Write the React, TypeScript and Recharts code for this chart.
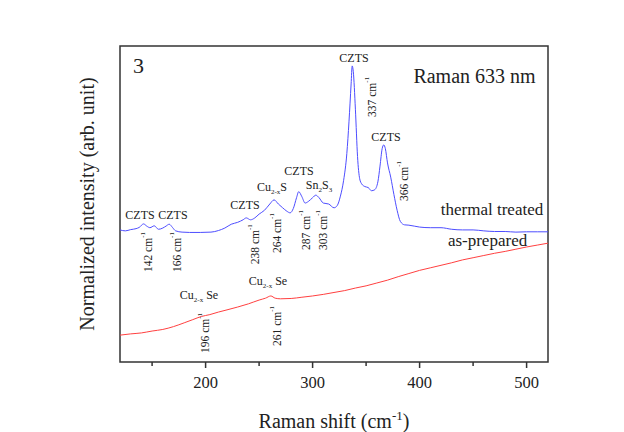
import React from "react";
import { LineChart, Line, XAxis, YAxis, ReferenceArea, ReferenceDot } from "recharts";

// Raman shift (cm-1) / normalized intensity
const thermalShift = [
  120, 125, 130, 135, 138, 142, 145, 148, 152, 156, 160, 163, 166, 169, 172, 178, 185, 195, 205, 212,
  218, 224, 230, 235, 238, 242, 246, 250, 255, 260, 264, 268, 272, 276, 279, 282, 285, 287, 290, 293,
  296, 300, 303, 306, 310, 315, 320, 323, 326, 329, 332, 334, 336, 337, 338, 340, 342, 344, 346, 349,
  352, 355, 358, 361, 363, 365, 366.5, 368, 370, 373, 376, 379, 382, 386, 390, 395, 400, 410, 420, 430,
  440, 450, 460, 470, 480, 490, 500, 510, 520,
];
const thermalIntensity = [
  41.8, 41.5, 41.9, 42.2, 42.6, 43.7, 43.0, 42.5, 43.1, 42.0, 42.4, 43.0, 43.6, 42.6, 41.5, 41.1, 41.0, 41.0, 41.1, 41.6,
  42.4, 43.6, 44.2, 45.0, 45.6, 45.0, 45.6, 46.8, 48.0, 50.0, 51.3, 50.0, 48.8, 47.7, 47.2, 48.6, 52.0, 53.9, 52.3, 50.3,
  50.8, 52.0, 52.8, 52.0, 50.3, 50.0, 48.8, 49.5, 52.5, 57.5, 66, 76, 88, 93.7, 92, 80, 65, 58, 56.3, 55.5,
  55.2, 54.2, 54.5, 57, 62, 67.5, 68.7, 67.5, 63, 58.5, 53, 48, 44.5, 43.4, 43.3, 43.0, 42.7, 42.5, 42.5, 42.0,
  41.8, 41.8, 41.5, 41.3, 41.3, 41.1, 41.2, 41.2, 41.2,
];

const preparedShift = [
  120, 130, 140, 150, 160, 170, 180, 188, 196, 204, 212, 220, 230, 240, 250, 256, 261, 265, 270, 280,
  290, 300, 310, 320, 330, 340, 350, 360, 370, 380, 390, 400, 410, 420, 430, 440, 450, 460, 470, 480,
  490, 500, 510, 520,
];
const preparedIntensity = [
  8.5, 8.9, 9.2, 9.8, 10.3, 11.2, 12.4, 13.4, 14.4, 15.0, 15.8, 16.5, 17.4, 18.4, 19.6, 20.2, 20.9, 20.2, 20.0, 20.1,
  20.5, 20.9, 21.4, 22.0, 22.6, 23.4, 24.1, 25.0, 25.9, 27.0, 28.0, 29.0, 29.8, 30.6, 31.4, 32.3, 33.0, 33.7, 34.4, 35.0,
  35.7, 36.4, 37.0, 37.6,
];

const xTicks = [150, 200, 250, 300, 350, 400, 450, 500];

// peak names: [text, subscript?] parts, placed at (shift, intensity)
const phaseLabels = [
  { x: 338.7, y: 94.9, parts: [["CZTS", false]] },
  { x: 368.6, y: 69.9, parts: [["CZTS", false]] },
  { x: 287.3, y: 59.2, parts: [["CZTS", false]] },
  { x: 306, y: 54.7, parts: [["Sn", false], ["2", true], ["S", false], ["3", true]] },
  { x: 262, y: 54.1, parts: [["Cu", false], ["2-x", true], ["S", false]] },
  { x: 236.8, y: 48.4, parts: [["CZTS", false]] },
  { x: 138.7, y: 45.3, parts: [["CZTS", false]] },
  { x: 169.5, y: 45.3, parts: [["CZTS", false]] },
  { x: 193.8, y: 19.9, parts: [["Cu", false], ["2-x", true], [" Se", false]] },
  { x: 258.3, y: 24.4, parts: [["Cu", false], ["2-x", true], [" Se", false]] },
];

const peakLabels = [
  { x: 146.2, y: 34.8, text: "142 cm" },
  { x: 173.3, y: 34.8, text: "166 cm" },
  { x: 246.2, y: 37.3, text: "238 cm" },
  { x: 266.7, y: 40.8, text: "264 cm" },
  { x: 293.8, y: 41.8, text: "287 cm" },
  { x: 309.7, y: 41.8, text: "303 cm" },
  { x: 355.5, y: 83.9, text: "337 cm" },
  { x: 385.4, y: 57.3, text: "366 cm" },
  { x: 199.4, y: 9.2, text: "196 cm" },
  { x: 266.7, y: 11.4, text: "261 cm" },
];

const plainLabels = [
  { x: 132.1, y: 91.5, text: "3", size: 22, anchor: "start" },
  { x: 451.3, y: 88.3, text: "Raman 633 nm", size: 20, anchor: "middle" },
  { x: 467.7, y: 46.5, text: "thermal treated", size: 17, anchor: "middle" },
  { x: 463.5, y: 36.7, text: "as-prepared", size: 17, anchor: "middle" },
];

const thermalData = thermalShift.map((x, i) => ({ x, y: thermalIntensity[i] }));
const preparedData = preparedShift.map((x, i) => ({ x, y: preparedIntensity[i] }));

const serif = { fontFamily: '"Liberation Serif", serif' };
const INK = "#222";

const XTick = (props: any) => {
  const { x, y, payload } = props;
  const major = payload.value % 100 === 0;
  return (
    <g>
      <line x1={x} x2={x} y1={y} y2={y + (major ? 6 : 4)} stroke="#333" strokeWidth={1.5} />
      {major && (
        <text x={x} y={y + 26} textAnchor="middle" fontSize={16.5} style={serif} fill={INK}>
          {payload.value}
        </text>
      )}
    </g>
  );
};

export default function App() {
  return (
    <div style={{ position: "absolute", left: 0, top: 0, width: 624, height: 432, background: "#fff" }}>
      <LineChart width={624} height={432} margin={{ top: 46, right: 76, bottom: 0, left: 120 }}>
        <XAxis
          type="number"
          dataKey="x"
          domain={[120, 520]}
          ticks={xTicks}
          allowDataOverflow
          axisLine={false}
          tickLine={false}
          tickSize={0}
          tickMargin={0}
          tick={<XTick />}
          height={70}
          label={{
            content: (p: any) => {
              const vb = p.viewBox;
              const cx = 87;
              const cy = 204;
              return (
                <g>
                  <text x={vb.x + vb.width / 2} y={vb.y + 66} textAnchor="middle" fontSize={20} style={serif} fill={INK}>
                    Raman shift (cm
                    <tspan dy={-8} fontSize={13}>-1</tspan>
                    <tspan dy={8}>)</tspan>
                  </text>
                  <text
                    x={cx}
                    y={cy}
                    transform={`rotate(-90, ${cx}, ${cy})`}
                    textAnchor="middle"
                    dominantBaseline="central"
                    fontSize={20}
                    style={serif}
                    fill={INK}
                  >
                    Normalized intensity (arb. unit)
                  </text>
                </g>
              );
            },
          }}
        />
        <YAxis type="number" domain={[0, 100]} allowDataOverflow width={0} tick={false} axisLine={false} tickLine={false} />
        <ReferenceArea x1={120} x2={520} y1={0} y2={100} fill="none" stroke="#333" strokeWidth={1.5} />
        <Line data={preparedData} dataKey="y" type="monotone" stroke="#ff4040" strokeWidth={1} dot={false} isAnimationActive={false} />
        <Line data={thermalData} dataKey="y" type="monotone" stroke="#4d4dff" strokeWidth={1} dot={false} isAnimationActive={false} />
        {phaseLabels.map((a, i) => (
          <ReferenceDot
            key={`ph${i}`}
            x={a.x}
            y={a.y}
            r={0}
            shape={(p: any) => (
              <text x={p.cx} y={p.cy} textAnchor="middle" fontSize={12} style={serif} fill={INK}>
                {a.parts.map(([t, sub], j) => {
                  const prevSub = j > 0 && a.parts[j - 1][1];
                  const dy = sub ? 3 : prevSub ? -3 : 0;
                  return (
                    <tspan key={j} dy={dy} fontSize={sub ? 7 : 12}>
                      {t as string}
                    </tspan>
                  );
                })}
              </text>
            )}
          />
        ))}
        {peakLabels.map((a, i) => (
          <ReferenceDot
            key={`pk${i}`}
            x={a.x}
            y={a.y}
            r={0}
            shape={(p: any) => (
              <text
                x={p.cx}
                y={p.cy}
                transform={`rotate(-90, ${p.cx}, ${p.cy})`}
                textAnchor="middle"
                dominantBaseline="central"
                fontSize={11.5}
                style={serif}
                fill={INK}
              >
                {a.text}
                <tspan dy={-5} fontSize={7}>-1</tspan>
              </text>
            )}
          />
        ))}
        {plainLabels.map((a, i) => (
          <ReferenceDot
            key={`pl${i}`}
            x={a.x}
            y={a.y}
            r={0}
            shape={(p: any) => (
              <text x={p.cx} y={p.cy} textAnchor={a.anchor as any} fontSize={a.size} style={serif} fill={INK}>
                {a.text}
              </text>
            )}
          />
        ))}
      </LineChart>
    </div>
  );
}
